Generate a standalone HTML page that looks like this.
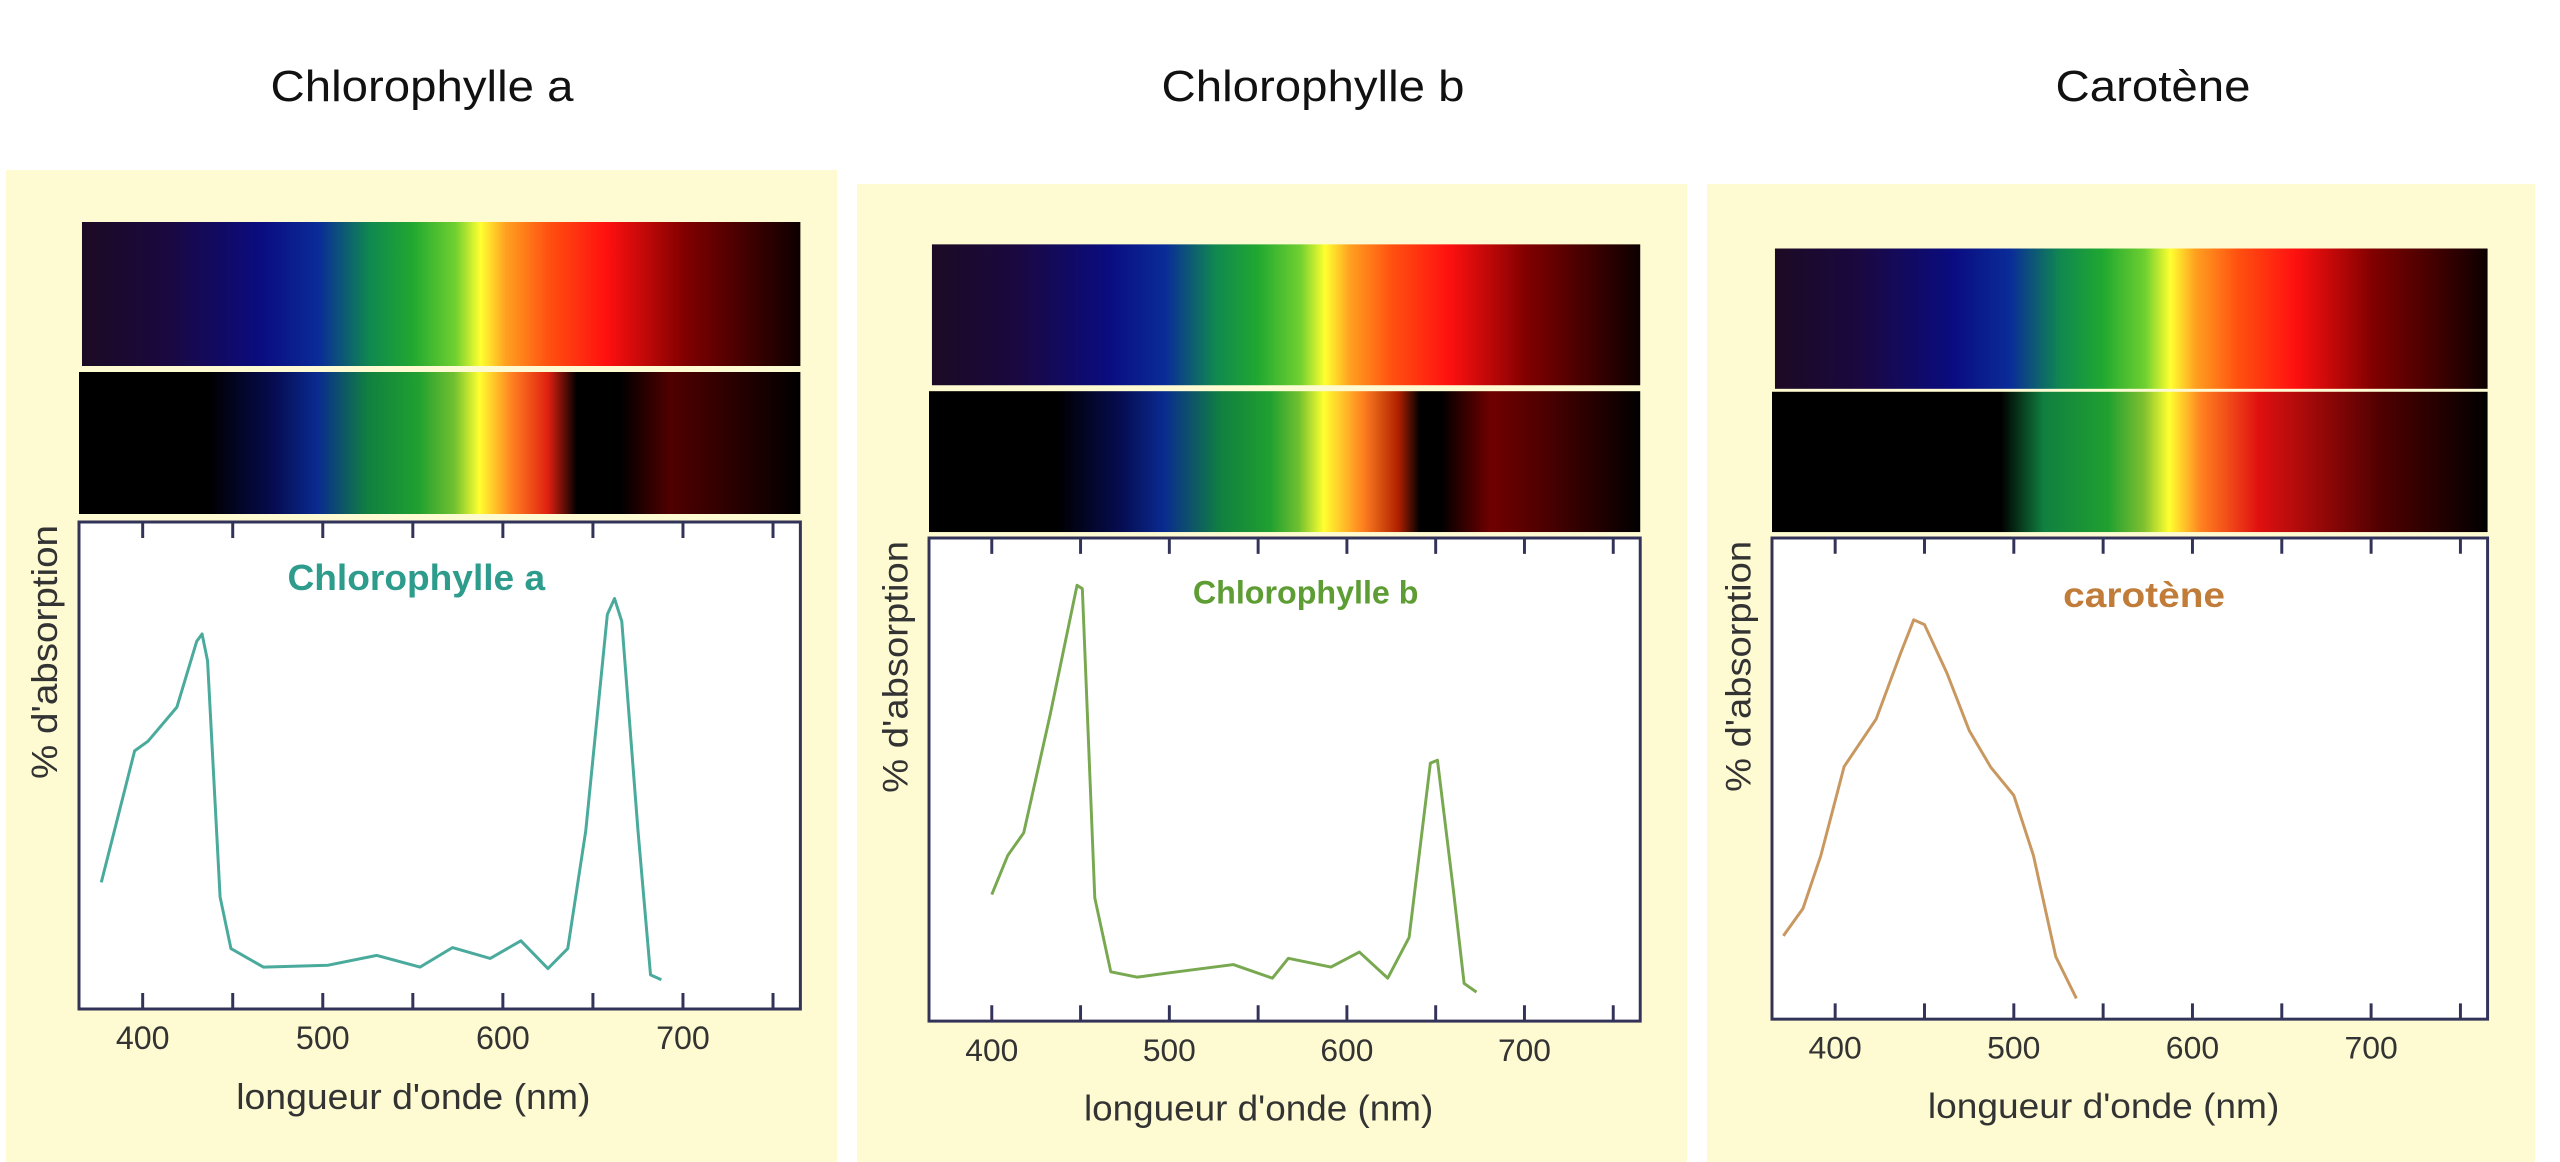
<!DOCTYPE html>
<html><head><meta charset="utf-8"><style>
html,body{margin:0;padding:0;background:#fff;}
svg{display:block}
text{font-family:"Liberation Sans",sans-serif}
</style></head><body>
<svg width="2560" height="1162" viewBox="0 0 2560 1162" xmlns="http://www.w3.org/2000/svg">
<defs>
<linearGradient id="sp" x1="0" x2="1" y1="0" y2="0">
<stop offset="0" stop-color="#1c0a24"/>
<stop offset="0.12" stop-color="#1a0840"/>
<stop offset="0.25" stop-color="#0a0c80"/>
<stop offset="0.33" stop-color="#0a2c98"/>
<stop offset="0.40" stop-color="#108850"/>
<stop offset="0.46" stop-color="#20a830"/>
<stop offset="0.52" stop-color="#70d030"/>
<stop offset="0.555" stop-color="#ffff30"/>
<stop offset="0.59" stop-color="#ffa020"/>
<stop offset="0.65" stop-color="#ff5010"/>
<stop offset="0.73" stop-color="#ff1010"/>
<stop offset="0.84" stop-color="#800000"/>
<stop offset="1" stop-color="#0c0000"/>
</linearGradient>
<linearGradient id="ga" x1="0" x2="1" y1="0" y2="0">
<stop offset="0" stop-color="#000"/>
<stop offset="0.18" stop-color="#000"/>
<stop offset="0.27" stop-color="#060c50"/>
<stop offset="0.33" stop-color="#0a2a90"/>
<stop offset="0.40" stop-color="#108040"/>
<stop offset="0.47" stop-color="#20a030"/>
<stop offset="0.52" stop-color="#70c030"/>
<stop offset="0.555" stop-color="#ffff30"/>
<stop offset="0.60" stop-color="#ff8020"/>
<stop offset="0.65" stop-color="#e02010"/>
<stop offset="0.69" stop-color="#000"/>
<stop offset="0.75" stop-color="#000"/>
<stop offset="0.82" stop-color="#500000"/>
<stop offset="1" stop-color="#000"/>
</linearGradient>
<linearGradient id="gb" x1="0" x2="1" y1="0" y2="0">
<stop offset="0" stop-color="#000"/>
<stop offset="0.18" stop-color="#000"/>
<stop offset="0.27" stop-color="#060c50"/>
<stop offset="0.33" stop-color="#0a2a90"/>
<stop offset="0.41" stop-color="#108040"/>
<stop offset="0.48" stop-color="#20a030"/>
<stop offset="0.52" stop-color="#70c030"/>
<stop offset="0.555" stop-color="#ffff30"/>
<stop offset="0.61" stop-color="#ff8020"/>
<stop offset="0.66" stop-color="#b02000"/>
<stop offset="0.69" stop-color="#000"/>
<stop offset="0.72" stop-color="#000"/>
<stop offset="0.79" stop-color="#700000"/>
<stop offset="0.86" stop-color="#500000"/>
<stop offset="1" stop-color="#000"/>
</linearGradient>
<linearGradient id="gc" x1="0" x2="1" y1="0" y2="0">
<stop offset="0" stop-color="#000"/>
<stop offset="0.32" stop-color="#000"/>
<stop offset="0.38" stop-color="#108040"/>
<stop offset="0.47" stop-color="#20a030"/>
<stop offset="0.52" stop-color="#80c030"/>
<stop offset="0.555" stop-color="#ffff30"/>
<stop offset="0.60" stop-color="#ff8020"/>
<stop offset="0.68" stop-color="#e01010"/>
<stop offset="0.85" stop-color="#500000"/>
<stop offset="1" stop-color="#000"/>
</linearGradient>
<g id="axes">
<rect x="0" y="0" width="725" height="487" fill="#fff" stroke="#33335a" stroke-width="3"/>
<path d="M64 0v16M154.5 0v16M245 0v16M335.5 0v16M426 0v16M516.5 0v16M607 0v16M697.5 0v16M64 487v-16M154.5 487v-16M245 487v-16M335.5 487v-16M426 487v-16M516.5 487v-16M607 487v-16M697.5 487v-16" stroke="#33335a" stroke-width="3"/>
<g font-size="32" fill="#333" text-anchor="middle">
<text x="64" y="527" textLength="54" lengthAdjust="spacingAndGlyphs">400</text>
<text x="245" y="527" textLength="54" lengthAdjust="spacingAndGlyphs">500</text>
<text x="426" y="527" textLength="54" lengthAdjust="spacingAndGlyphs">600</text>
<text x="607" y="527" textLength="54" lengthAdjust="spacingAndGlyphs">700</text>
<text x="336" y="587" font-size="36" textLength="356" lengthAdjust="spacingAndGlyphs">longueur d'onde (nm)</text>
</g>
<text transform="translate(-22,130) rotate(-90)" font-size="36" fill="#333" text-anchor="middle" textLength="254" lengthAdjust="spacingAndGlyphs">% d'absorption</text>
</g>
</defs>

<rect x="6" y="170" width="831" height="992" fill="#fefbd2"/>
<rect x="857" y="184" width="830" height="978" fill="#fefbd2"/>
<rect x="1707" y="184" width="828" height="978" fill="#fefbd2"/>

<g font-size="44" fill="#111" text-anchor="middle">
<text x="422" y="101" textLength="303" lengthAdjust="spacingAndGlyphs">Chlorophylle a</text>
<text x="1313" y="101" textLength="303" lengthAdjust="spacingAndGlyphs">Chlorophylle b</text>
<text x="2153" y="101" textLength="195" lengthAdjust="spacingAndGlyphs">Carotène</text>
</g>

<g transform="translate(79,522) scale(0.995,1)">
<rect x="3" y="-300" width="722" height="144" fill="url(#sp)"/>
<rect x="0" y="-150" width="725" height="142" fill="url(#ga)"/>
<use href="#axes"/>
<text x="339" y="68" font-size="36" font-weight="bold" fill="#2e9c8c" text-anchor="middle" textLength="259" lengthAdjust="spacingAndGlyphs">Chlorophylle a</text>
<polyline fill="none" stroke="#4aaa9c" stroke-width="3" stroke-linejoin="round" points="22.4,360.4 55.9,228.9 69.4,219.2 98.4,185.1 118.3,119.3 123.7,112 129.2,138.8 141.8,375 152.7,426.6 185.3,445.1 250.4,443.2 299.3,433.4 342.7,445.1 375.3,425.6 413.3,436.4 444.1,418.8 471.3,446.6 491.2,426.6 509.3,308.8 531,92.5 538.2,76.5 545.5,99.3 561.8,308.8 574.4,452.9 585.3,457.8"/>
</g>

<g transform="translate(929,538) scale(0.981,0.992)">
<rect x="3" y="-296" width="722" height="142" fill="url(#sp)"/>
<rect x="0" y="-148" width="725" height="142" fill="url(#gb)"/>
<use href="#axes"/>
<text x="384" y="66" font-size="33" font-weight="bold" fill="#5e9c34" text-anchor="middle" textLength="230" lengthAdjust="spacingAndGlyphs">Chlorophylle b</text>
<polyline fill="none" stroke="#78a850" stroke-width="3" stroke-linejoin="round" points="64,359.4 80.3,320 96.6,297.1 123.7,177.3 150.9,47.7 156.3,51.1 169,362.8 185.3,437.3 212.4,442.7 245,438.3 310.2,430 350,443.7 366.3,423.7 409.7,432.5 438.7,417.4 467.6,443.7 489.4,402.7 511.1,226.9 518.3,224 534.6,355.5 545.5,449 558.1,457.8"/>
</g>

<g transform="translate(1772,538) scale(0.987,0.988)">
<rect x="3" y="-293" width="722" height="142" fill="url(#sp)"/>
<rect x="0" y="-148" width="725" height="142" fill="url(#gc)"/>
<use href="#axes"/>
<text x="377" y="70" font-size="36" font-weight="bold" fill="#c07c38" text-anchor="middle" textLength="164" lengthAdjust="spacingAndGlyphs">carotène</text>
<polyline fill="none" stroke="#c89860" stroke-width="3" stroke-linejoin="round" points="11.5,402.7 31.4,375 49.5,321.4 73.1,231.3 105.6,183.1 130.2,116.9 143.6,82.8 154.5,87.7 177.1,136.4 199.8,194.8 221.5,231.8 245,260.5 264.9,321.4 287.5,423.7 308.4,466"/>
</g>
</svg>
</body></html>
